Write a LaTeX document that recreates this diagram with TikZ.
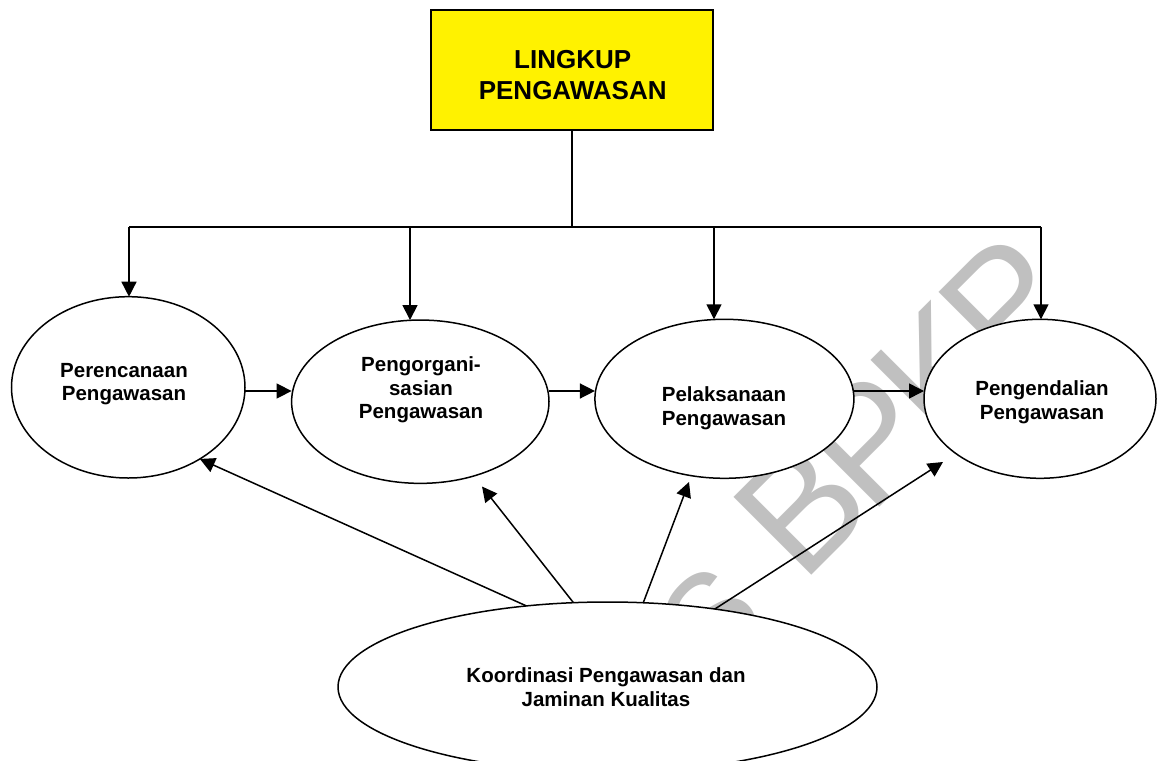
\documentclass[tikz,border=0pt]{standalone}
\usepackage{fontspec}
\setmainfont{Liberation Sans}
\newfontfamily\wmfont[LetterSpace=-6.3]{Liberation Sans}
\usetikzlibrary{arrows.meta,shapes.geometric}
\definecolor{wmgray}{RGB}{192,192,192}
\begin{document}
\begin{tikzpicture}[x=1pt,y=-1pt,
  line width=1.5pt,
  arr/.style={-{Triangle[length=15pt,width=15pt]}},
  stage/.style={ellipse,draw,fill=white,inner sep=0pt,outer sep=0pt},
  lbl/.style={align=center,font=\bfseries\fontsize{20.5}{23.5}\selectfont,inner sep=0pt},
  wmtext/.style={text=wmgray,font=\wmfont\fontsize{160}{160}\selectfont,inner sep=0pt,rotate=45,anchor=base west}
]
\useasboundingbox (0,0) rectangle (1161,760);

% watermark lettering behind the diagram
\node[wmtext] (wm1) at (712.4,674.6) {s};
\node[wmtext] (wm2) at (801.7,585.3) {BPKP};

% title box
\node[draw, fill=yellow, minimum width=282pt, minimum height=120pt, inner sep=0pt] (top) at (572,70) {};
\node[align=center, font=\bfseries\fontsize{26}{31}\selectfont, inner sep=0pt] (topt) at (572.7,74.7) {LINGKUP\\PENGAWASAN};

% stages
\node[stage, minimum width=233.5pt, minimum height=181.3pt] (e1) at (128.25,387.35) {};
\node[stage, minimum width=257.4pt, minimum height=163.3pt] (e2) at (420.3,401.7) {};
\node[stage, minimum width=259pt, minimum height=159pt] (e3) at (724.4,398.8) {};
\node[stage, minimum width=232pt, minimum height=159pt] (e4) at (1040,398.8) {};
\node[stage, minimum width=539pt, minimum height=170pt] (koor) at (607.5,687) {};

\node[lbl] (e1t) at (124,384) {Perencanaan\\Pengawasan};
\node[lbl] (e2t) at (421,390) {Pengorgani-\\sasian\\Pengawasan};
\node[lbl] (e3t) at (724,408) {Pelaksanaan\\Pengawasan};
\node[lbl] (e4t) at (1042,402) {Pengendalian\\Pengawasan};
\node[lbl] (koort) at (606,687) {Koordinasi Pengawasan dan\\Jaminan Kualitas};

% distribution bus from the title box
\coordinate (bus) at (572,227);
\coordinate (b1) at (129,227);
\coordinate (b2) at (410,227);
\coordinate (b3) at (714,227);
\coordinate (b4) at (1041,227);
\draw (top.south) -- (bus);
\draw (b1) -- (b4);
\draw[arr] (b1) -- (b1 |- e1.north);
\draw[arr] (b2) -- (b2 |- e2.north);
\draw[arr] (b3) -- (b3 |- e3.north);
\draw[arr] (b4) -- (b4 |- e4.north);

% sequence of stages
\coordinate (row) at (0,391);
\draw[arr] (e1.east |- row) -- (e2.west |- row);
\draw[arr] (e2.east |- row) -- (e3.west |- row);
\draw[arr] (e3.east |- row) -- (e4.west |- row);

% coordination feeds every stage
\coordinate (t2) at (482,486.5);
\coordinate (t3) at (689,482);
\coordinate (t4) at (943,462);
\draw[arr] (koor.135) -- (e1.-45);
\draw[arr] (koor.112.5) -- (t2);
\draw[arr] (koor.67.2) -- (t3);
\draw[arr] (koor.36.7) -- (t4);
\end{tikzpicture}
\end{document}
